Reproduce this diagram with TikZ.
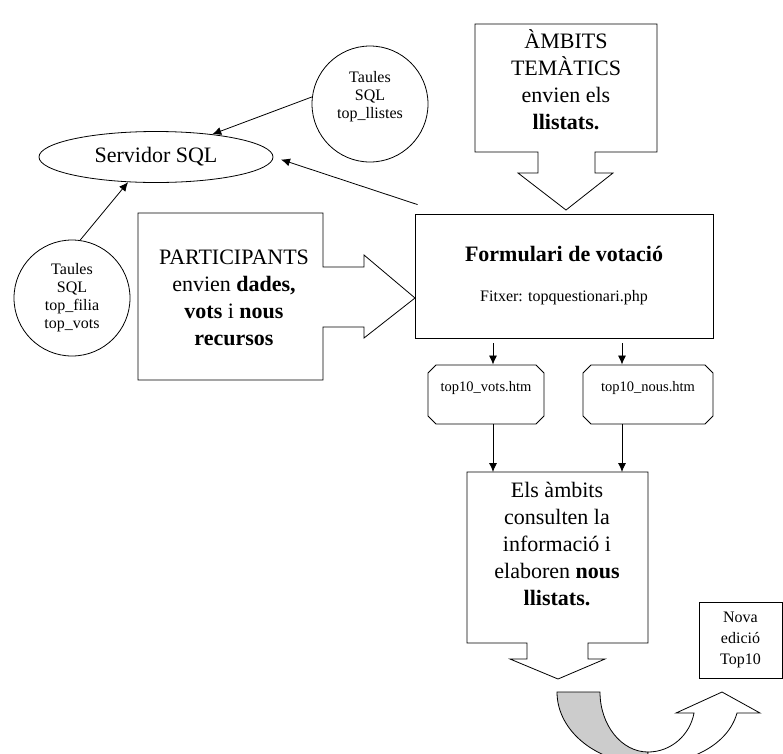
\documentclass[tikz,border=0pt]{standalone}
\usepackage{fontspec}
\setmainfont{Liberation Serif}
\usetikzlibrary{shapes.geometric, shapes.misc, arrows.meta}
\definecolor{bandgray}{RGB}{204,204,204}

\begin{document}
\begin{tikzpicture}[
            x=1pt, y=-1pt,
            line width=0.8pt,
            bigtext/.style={
                font=\fontsize{22}{27}\selectfont,
                align=center
            },
            tabletext/.style={
                font=\fontsize{16}{18}\selectfont,
                align=center
            },
            tablecircle/.style={
                draw, circle, minimum size=116pt, inner sep=0pt
            },
            htmbox/.style={
                draw, chamfered rectangle, chamfered rectangle xsep=5pt,
                inner sep=0pt, text height=23pt, text depth=30pt,
                font=\fontsize{14.5}{16}\selectfont
            },
            arr/.style={
                -{Latex[length=9pt, width=8pt]}
            }
            ]

            \useasboundingbox (0,0) rectangle (783,753);

            % servidor i taules SQL
            \node[draw, ellipse, minimum width=234pt, minimum height=51pt, inner sep=0pt,
                  font=\fontsize{22}{26}\selectfont] (sql) at (156,157) {Servidor SQL};
            \node[tablecircle] (llistes) at (370,104) {};
            \node[tabletext] (llistestxt) at (370,96.5) {Taules\\SQL\\top\_llistes};
            \node[tablecircle, tabletext] (filia) at (72,298) {Taules\\SQL\\top\_filia\\top\_vots};

            % participants
            \draw (138,213) -- (323,213) -- (323,267) -- (364,267) -- (364,255) -- (415,298)
                -- (364,338) -- (364,327) -- (323,327) -- (323,380) -- (138,380) -- cycle;
            \node[bigtext] (particip) at (234,298) {PARTICIPANTS\\envien \textbf{dades,}\\\textbf{vots} i \textbf{nous}\\\textbf{recursos}};

            % ambits tematics
            \draw (475,24) -- (657,24) -- (657,152) -- (595,152) -- (595,173) -- (613,173)
                -- (566,210) -- (518,173) -- (538,173) -- (538,152) -- (475,152) -- cycle;
            \node[bigtext] (ambits) at (566,80) {ÀMBITS\\TEMÀTICS\\envien els\\\textbf{llistats.}};

            % formulari
            \node[draw, minimum width=298pt, minimum height=124pt, align=center,
                  font=\fontsize{16}{19}\selectfont] (form) at (564,276)
                  {\textbf{\fontsize{22}{26}\selectfont Formulari de votació}\\[21pt]Fitxer: topquestionari.php};

            \node[htmbox, minimum width=116pt] (vots) at (486,394.5) {top10\_vots.htm};
            \node[htmbox, minimum width=130pt] (nous) at (648,394.5) {top10\_nous.htm};

            % els ambits consulten
            \draw (467,472) -- (648,472) -- (648,643) -- (588,643) -- (588,659) -- (605,659)
                -- (558,679) -- (510,659) -- (527,659) -- (527,643) -- (467,643) -- cycle;
            \coordinate (elstop) at (557.5,472);
            \node[bigtext] (els) at (557,543.5) {Els àmbits\\consulten la\\informació i\\elaboren \textbf{nous}\\\textbf{llistats.}};

            \node[draw, align=center, font=\fontsize{16}{21}\selectfont,
                  minimum width=83pt, minimum height=76pt] (nova) at (740.5,640) {Nova\\edició\\Top10};

            % fletxes
            \draw[arr] (llistes.173) -- (sql.22);
            \draw[arr] (filia.82) -- (sql.222);
            \draw[arr, shorten >=8pt] ([shift={(3,-9)}]form.north west) -- (sql.east);

            \coordinate (votsin) at ([xshift=7pt]vots.north);
            \coordinate (nousin) at ([xshift=-26pt]nous.north);
            \coordinate (votsout) at ([xshift=7pt]vots.south);
            \coordinate (nousout) at ([xshift=-26pt]nous.south);
            \draw[arr, shorten <=5pt] (form.south -| votsin) -- (votsin);
            \draw[arr, shorten <=5pt] (form.south -| nousin) -- (nousin);
            \draw[arr] (votsout) -- (votsout |- elstop);
            \draw[arr] (nousout) -- (nousout |- elstop);

            % fletxa corbada
            \begin{scope}
                \clip (0,0) rectangle (783,753);
                \filldraw[fill=bandgray] (557,692) -- (600,692)
                    .. controls (600,725.1) and (621.5,752) .. (648,752)
                    -- (648,764) .. controls (597.8,764) and (557,731.7) .. (557,692) -- cycle;
                \filldraw[fill=white] (648,752) .. controls (671,752) and (690,735) .. (694,713)
                    -- (676,713) -- (722,692) -- (760,713) -- (737,713)
                    .. controls (728,745) and (690,764) .. (648,764) -- cycle;
            \end{scope}

        \end{tikzpicture}
\end{document}
